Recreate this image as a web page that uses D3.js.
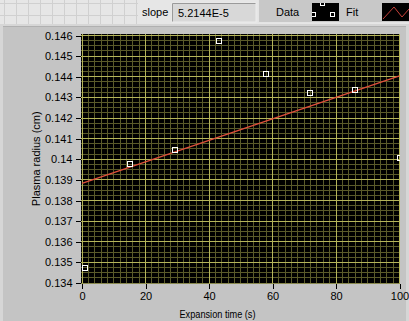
<!DOCTYPE html>
<html>
<head>
<meta charset="utf-8">
<script src="https://cdnjs.cloudflare.com/ajax/libs/d3/7.8.5/d3.min.js"></script>
<style>
body { margin: 0; background: #e6e6e6; overflow: hidden; }
text { font-family: "Liberation Sans", Arial, sans-serif; font-size: 11px; fill: #000; }
</style>
</head>
<body>
<script>
// measured points
var expTime = [1, 15.2, 29.4, 43.3, 57.8, 71.7, 85.9, 100];
var radius = [0.13475, 0.13975, 0.14043, 0.14574, 0.14412, 0.1432, 0.14335, 0.14004];
// linear fit endpoints
var fitTime = [0, 100];
var fitRadius = [0.13883, 0.14404];
var slopeText = "5.2144E-5";

var xTicks = [0, 20, 40, 60, 80, 100];
var yTicks = [0.134, 0.135, 0.136, 0.137, 0.138, 0.139, 0.14, 0.141, 0.142, 0.143, 0.144, 0.145, 0.146];

var width = 409, height = 321;
var plot = {left: 81, top: 34, right: 400, bottom: 283.5};

var svg = d3.select("body").append("svg")
    .attr("width", width)
    .attr("height", height);

// ---- front panel chrome ----
var grid = svg.append("g").attr("stroke", "#d0d0d0").attr("shape-rendering", "crispEdges");
d3.range(4.5, 140, 12).forEach(function(x) {
    grid.append("line").attr("x1", x).attr("x2", x).attr("y1", 0).attr("y2", 24);
});
[3.5, 15.5].forEach(function(y) {
    grid.append("line").attr("x1", 0).attr("x2", 138).attr("y1", y).attr("y2", y);
});

// graph panel
svg.append("rect").attr("x", 0).attr("y", 24).attr("width", width).attr("height", height - 24).attr("fill", "#d6d6d6");
svg.append("rect").attr("x", 3).attr("y", 26).attr("width", 403).attr("height", height - 26).attr("fill", "#c4c4c4");
svg.append("line").attr("x1", 3).attr("x2", 406).attr("y1", 26.5).attr("y2", 26.5)
    .attr("stroke", "#b0b0b0");

// slope indicator
svg.append("text").attr("x", 142).attr("y", 16).text("slope");
svg.append("rect").attr("x", 172).attr("y", 3).attr("width", 84).attr("height", 19)
    .attr("fill", "#d8d8d8").attr("stroke", "#ececec");
svg.append("path").attr("d", "M172.5,21.5V3.5H255.5").attr("fill", "none").attr("stroke", "#9a9a9a");
svg.append("text").attr("x", 178).attr("y", 17).text(slopeText);

// legend bar
svg.append("rect").attr("x", 258).attr("y", 0).attr("width", 151).attr("height", 22).attr("fill", "#c8c8c8");
svg.append("line").attr("x1", 258).attr("x2", 409).attr("y1", 22.5).attr("y2", 22.5).attr("stroke", "#e4e4e4");
svg.append("line").attr("x1", 258.5).attr("x2", 258.5).attr("y1", 0).attr("y2", 22).attr("stroke", "#e4e4e4");
svg.append("text").attr("x", 276).attr("y", 16).text("Data");
svg.append("text").attr("x", 346).attr("y", 16).text("Fit");

var dataKey = svg.append("g");
dataKey.append("clipPath").attr("id", "keyclip")
    .append("rect").attr("x", 312).attr("y", 3).attr("width", 27).attr("height", 18);
dataKey.append("rect").attr("x", 312).attr("y", 3).attr("width", 27).attr("height", 18).attr("fill", "#000");
var keyG = dataKey.append("g").attr("clip-path", "url(#keyclip)")
    .attr("fill", "none").attr("stroke", "#fff").attr("shape-rendering", "crispEdges");
[[311.5, 12.5], [320.5, 1.5], [330.5, 12.5]].forEach(function(p) {
    keyG.append("rect").attr("x", p[0]).attr("y", p[1]).attr("width", 4).attr("height", 4);
});

svg.append("rect").attr("x", 382).attr("y", 3).attr("width", 27).attr("height", 18).attr("fill", "#000");
svg.append("path").attr("d", "M383,19L394,7L402,17L409,9")
    .attr("fill", "none").attr("stroke", "#c8403a").attr("stroke-width", 1);

// ---- graph ----
var x = d3.scaleLinear().domain([0, 100]).range([82, 399.5]);
var y = d3.scaleLinear().domain([0.134, 0.146]).range([283, 35.5]);

svg.append("clipPath").attr("id", "plotclip")
    .append("rect").attr("x", plot.left).attr("y", plot.top)
    .attr("width", plot.right - plot.left).attr("height", plot.bottom - plot.top);

svg.append("rect").attr("x", plot.left).attr("y", plot.top)
    .attr("width", plot.right - plot.left).attr("height", plot.bottom - plot.top)
    .attr("fill", "#000");

var gridG = svg.append("g").attr("clip-path", "url(#plotclip)").attr("shape-rendering", "crispEdges");

// minor grid
gridG.selectAll(".vminor").data(d3.range(0, 100.001, 2)).enter().append("line")
    .attr("x1", x).attr("x2", x).attr("y1", plot.top).attr("y2", plot.bottom)
    .attr("stroke", "#5a5a2a");
gridG.selectAll(".hminor").data(d3.range(0, 48.5, 1).map(function(i) { return 0.134 + i * 0.00025; }))
    .enter().append("line")
    .attr("x1", plot.left).attr("x2", plot.right).attr("y1", y).attr("y2", y)
    .attr("stroke", "#5a5a2a");

// major grid
gridG.selectAll(".vmajor").data(xTicks).enter().append("line")
    .attr("x1", x).attr("x2", x).attr("y1", plot.top).attr("y2", plot.bottom)
    .attr("stroke", "#b4b45a");
gridG.selectAll(".hmajor").data(yTicks).enter().append("line")
    .attr("x1", plot.left).attr("x2", plot.right).attr("y1", y).attr("y2", y)
    .attr("stroke", "#b4b45a");

// axes
var yAxis = svg.append("g").attr("transform", "translate(80.5,0)")
    .call(d3.axisLeft(y).tickValues(yTicks).tickSize(5).tickPadding(3)
        .tickFormat(function(d) { return String(+d.toFixed(3)); }));
var xAxis = svg.append("g").attr("transform", "translate(0,284)")
    .call(d3.axisBottom(x).tickValues(xTicks).tickSize(5).tickPadding(3));
[yAxis, xAxis].forEach(function(a) {
    a.select(".domain").remove();
    a.selectAll("line").attr("stroke", "#000").attr("shape-rendering", "crispEdges");
    a.selectAll("text").attr("font-family", null).attr("font-size", null).attr("fill", "#000");
});

// fit line
var fitData = fitTime.map(function(t, i) { return [t, fitRadius[i]]; });
svg.append("path").datum(fitData)
    .attr("clip-path", "url(#plotclip)")
    .attr("fill", "none")
    .attr("stroke", "#e0503c")
    .attr("stroke-width", 1.3)
    .attr("d", d3.line().x(function(d) { return x(d[0]); }).y(function(d) { return y(d[1]); }));

// data points
var pts = expTime.map(function(t, i) { return [t, radius[i]]; });
svg.append("g").attr("clip-path", "url(#plotclip)")
    .selectAll("rect").data(pts).enter().append("rect")
    .attr("x", function(d) { return Math.round(x(d[0])) - 2.5; })
    .attr("y", function(d) { return Math.round(y(d[1])) - 2.5; })
    .attr("width", 5).attr("height", 5)
    .attr("fill", "none")
    .attr("stroke", "#fff")
    .attr("stroke-width", 1.2)
    .attr("shape-rendering", "crispEdges");

// axis titles
svg.append("text")
    .attr("transform", "translate(40," + ((plot.top + plot.bottom) / 2) + ")rotate(-90)")
    .attr("text-anchor", "middle")
    .text("Plasma radius (cm)");
svg.append("text")
    .attr("x", 217.5).attr("y", 318)
    .attr("text-anchor", "middle")
    .attr("font-size", "12px")
    .attr("textLength", 76).attr("lengthAdjust", "spacingAndGlyphs")
    .text("Expansion time (s)");
</script>
</body>
</html>
